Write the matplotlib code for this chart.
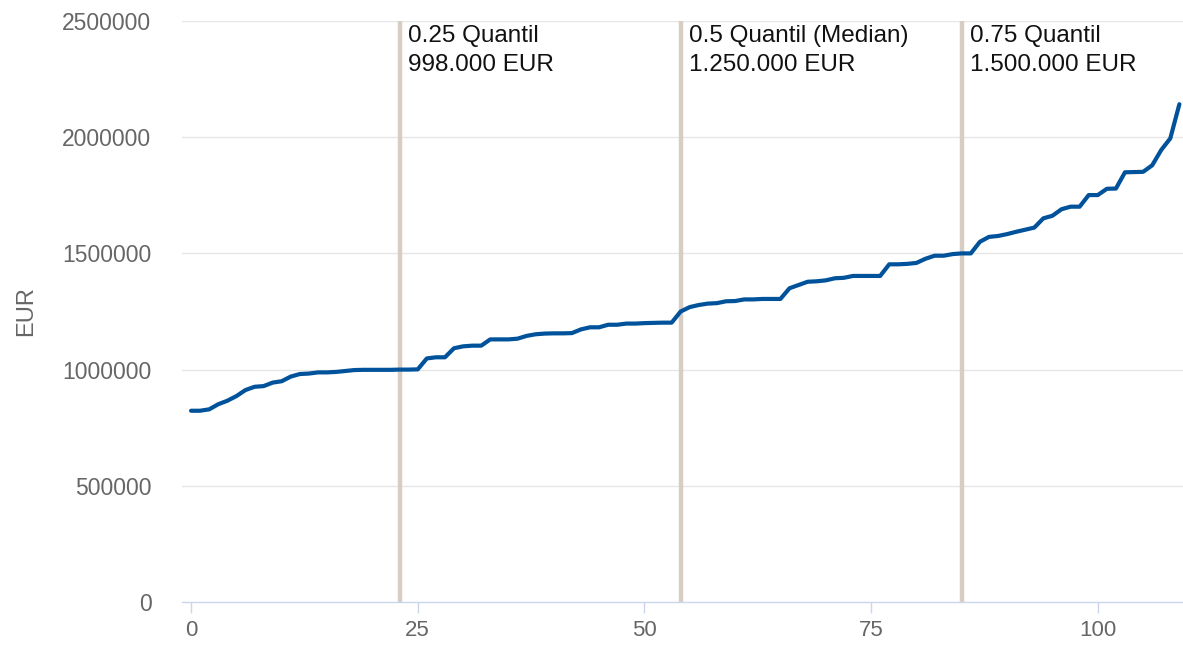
import matplotlib.pyplot as plt

plt.rcParams['font.family'] = ['Liberation Sans', 'DejaVu Sans']

# sorted values (EUR), one per observation index
werte = [
    823000, 823000, 829000, 851000, 866000, 886000, 912000, 926000, 929000, 944000,
    950000, 970000, 981000, 983000, 988000, 988000, 990000, 994000, 998000, 999000,
    999000, 999000, 999000, 1000000, 1000000, 1001000, 1048000, 1053000, 1053000, 1092000,
    1100000, 1103000, 1103000, 1130000, 1130000, 1130000, 1133000, 1145000, 1152000, 1155000,
    1156000, 1156000, 1157000, 1173000, 1182000, 1182000, 1193000, 1193000, 1198000, 1198000,
    1200000, 1201000, 1202000, 1202000, 1250000, 1269000, 1278000, 1284000, 1286000, 1294000,
    1295000, 1302000, 1302000, 1304000, 1304000, 1304000, 1350000, 1364000, 1378000, 1380000,
    1384000, 1393000, 1395000, 1403000, 1403000, 1403000, 1403000, 1453000, 1453000, 1455000,
    1459000, 1477000, 1490000, 1490000, 1497000, 1500000, 1500000, 1550000, 1571000, 1575000,
    1583000, 1593000, 1602000, 1611000, 1651000, 1662000, 1690000, 1701000, 1701000, 1751000,
    1751000, 1778000, 1779000, 1849000, 1850000, 1851000, 1879000, 1945000, 1995000, 2142000,
]
index = list(range(len(werte)))

quantil_pos = [23, 54, 85]
quantil_labels = ['0.25 Quantil\n998.000 EUR',
                  '0.5 Quantil (Median)\n1.250.000 EUR',
                  '0.75 Quantil\n1.500.000 EUR']

y_ticks = [0, 500000, 1000000, 1500000, 2000000, 2500000]
x_ticks = [0, 25, 50, 75, 100]

fig = plt.figure(figsize=(11.83, 6.45), dpi=100)
ax = fig.add_axes([182 / 1183, 43 / 645, 1 - 182 / 1183, 581 / 645])

for y in y_ticks[1:]:
    ax.axhline(y, color='#e6e6e6', lw=1.0, zorder=1)

for xq, lab in zip(quantil_pos, quantil_labels):
    ax.axvline(xq, color='#d8cdc2', lw=3.2, zorder=2)
    ax.annotate(lab, xy=(xq, 2500000), xytext=(6, -3), textcoords='offset points',
                ha='left', va='top', fontsize=17.5, color='#111111', linespacing=1.42,
                zorder=4)

ax.plot(index, werte, color='#00529b', lw=3.0, zorder=3, solid_capstyle='round',
        solid_joinstyle='round')

ax.set_xlim(-1, 109.4)
ax.set_ylim(0, 2500000)
ax.set_yticks(y_ticks)
ax.set_yticklabels([str(v) for v in y_ticks])
ax.set_xticks(x_ticks)

for s in ['top', 'right', 'left']:
    ax.spines[s].set_visible(False)
ax.spines['bottom'].set_color('#ccd6eb')
ax.spines['bottom'].set_linewidth(1.0)

ax.tick_params(axis='y', length=0, pad=22, labelsize=16.5, labelcolor='#666666')
ax.tick_params(axis='x', length=8, width=1, color='#ccd6eb', pad=5,
               labelsize=16, labelcolor='#666666')

ax.set_ylabel('EUR', fontsize=17, color='#666666', labelpad=18)

fig.savefig('out.png', dpi=100)
